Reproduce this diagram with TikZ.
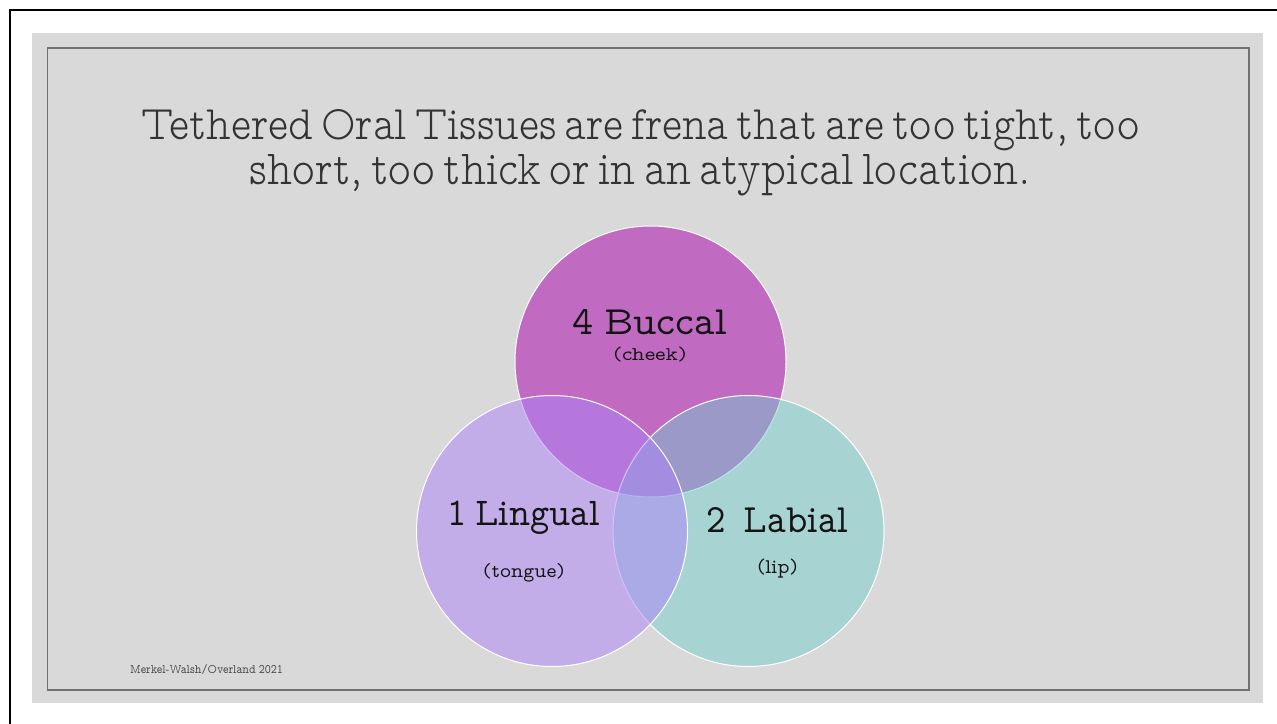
\documentclass[tikz,border=0pt]{standalone}
\usepackage{fontspec}
\usepackage{graphicx}
\newfontfamily\slablight[Extension=.otf, WordSpace=0.55]{lmmonoproplt10-regular}
\newfontfamily\slabreg[Extension=.otf, WordSpace=0.7]{lmmonoprop10-regular}
\newcommand\fitwh[3]{\resizebox{#1}{#2}{#3}}
\newcommand\fitw[2]{\resizebox{#1}{!}{#2}}
\definecolor{bggray}{RGB}{217,217,217}
\definecolor{framegray}{RGB}{112,112,112}
\definecolor{titlegray}{RGB}{51,51,51}
\definecolor{topc}{RGB}{192,107,193}
\definecolor{rightc}{RGB}{113,206,206}
\definecolor{leftc}{RGB}{173,131,249}
\begin{document}
\begin{tikzpicture}[x=1pt,y=-1pt,
  venn/.style={circle, minimum size=271pt, inner sep=0pt, draw=white, line width=1pt},
  titletext/.style={inner sep=0pt, anchor=base, text=titlegray, font=\slablight},
  bigtext/.style={inner sep=0pt, anchor=base, text=black!92, font=\slabreg},
  smalltext/.style={inner sep=0pt, anchor=base, text=black!92, font=\slabreg},
  foottext/.style={inner sep=0pt, anchor=base, text=black!72, font=\slabreg}]
\useasboundingbox (0,0) rectangle (1277,723);
\clip (0,0) rectangle (1277,723);
\fill[white] (0,0) rectangle (1277,723);
\draw[black, line width=2pt] (10,10) rectangle (1300,750);
\fill[bggray] (32,33) rectangle (1263,703);
\draw[framegray, line width=1.6pt] (47.5,48) rectangle (1249,690);

\node[titletext] (t1) at (640.5,139.3) {\fitwh{998pt}{30pt}{Tethered Oral Tissues are frena that are too tight, too}};
\node[titletext] (t2) at (640.5,184) {\fitwh{781pt}{30pt}{short, too thick or in an atypical location.}};

\node[venn, fill=topc] (buccal) at (650.5,361.5) {};
\node[venn, fill=rightc, fill opacity=0.47] (labial) at (748.5,531) {};
\node[venn, fill=leftc, fill opacity=0.5] (lingual) at (552,531) {};

\node[bigtext] (b1) at (650,334) {\fitwh{154pt}{25pt}{4 Buccal}};
\node[smalltext] (b2) at (650,360) {\fitwh{74pt}{13.5pt}{(cheek)}};
\node[bigtext] (l1) at (523.5,525) {\fitwh{153pt}{24.5pt}{1 Lingual}};
\node[smalltext] (l2) at (524,577.5) {\fitwh{82pt}{14pt}{(tongue)}};
\node[bigtext] (r1) at (777,532) {\fitwh{142pt}{25pt}{2\ \ Labial}};
\node[smalltext] (r2) at (777.5,573) {\fitwh{41pt}{14.5pt}{(lip)}};
\node[foottext] (f) at (206.5,673) {\fitwh{153pt}{9pt}{Merkel-Walsh/Overland 2021}};
\end{tikzpicture}
\end{document}
